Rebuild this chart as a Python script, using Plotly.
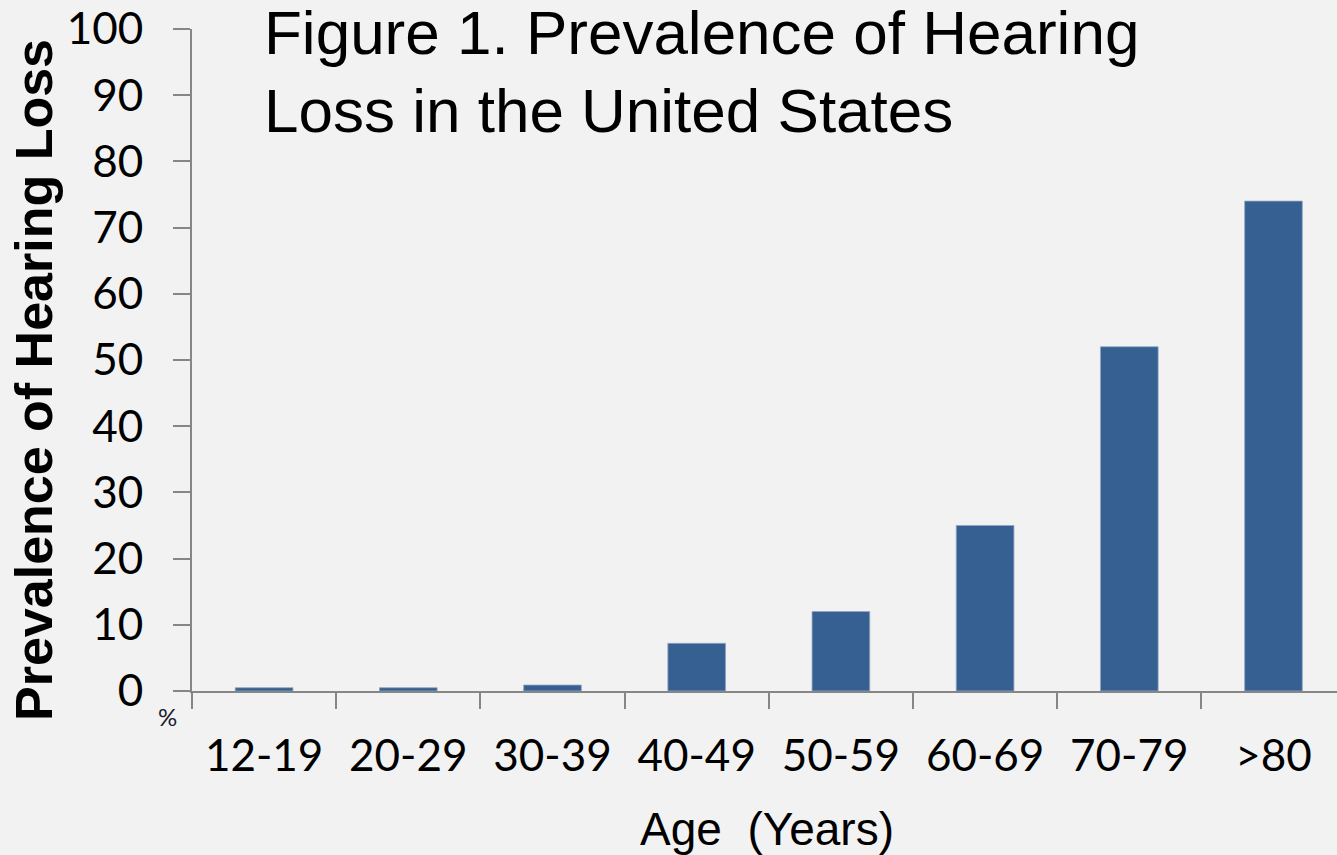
import plotly.graph_objects as go

age_groups = ["12-19", "20-29", "30-39", "40-49", "50-59", "60-69", "70-79", ">80"]
prevalence = [0.5, 0.5, 0.9, 7.2, 12.0, 25.0, 52.0, 74.0]
y_ticks = [0, 10, 20, 30, 40, 50, 60, 70, 80, 90, 100]

W, H = 1337, 855
L, R, T, B = 192, 0, 29, 164
pw, ph = W - L - R, H - T - B

def px(x):
    return (x - L) / pw

def py(y):
    return (H - B - y) / ph

cat_w = 144.2
xmax = pw / cat_w - 0.5

fig = go.Figure(go.Bar(
    x=age_groups, y=prevalence,
    marker=dict(color="#376092", line=dict(color="#8fa6c4", width=0.8)),
    width=0.4,
))

axis_col = "#868686"
tick_font = dict(family="Lato", size=44, color="#000000")

fig.update_layout(
    width=W, height=H,
    margin=dict(l=L, r=R, t=T, b=B, pad=0),
    paper_bgcolor="#f2f2f2", plot_bgcolor="#f2f2f2",
    showlegend=False,
    xaxis=dict(
        type="category", range=[-0.5, xmax], tickson="boundaries",
        showline=True, linecolor=axis_col, linewidth=2,
        ticks="outside", ticklen=16, tickwidth=2, tickcolor=axis_col,
        showgrid=False, zeroline=False, tickfont=tick_font,
        ticklabelstandoff=25,
    ),
    yaxis=dict(
        range=[0, 100], tickvals=y_ticks,
        showline=True, linecolor=axis_col, linewidth=2,
        ticks="outside", ticklen=17, tickwidth=2, tickcolor=axis_col,
        showgrid=False, zeroline=False, tickfont=tick_font,
        ticklabelstandoff=21,
    ),
)

ann = []
title_font = dict(family="Liberation Sans, Arial", size=62, color="#000000")
ann.append(dict(text="Figure 1. Prevalence of Hearing", x=px(262), y=py(33),
                xref="paper", yref="paper", xanchor="left", yanchor="middle",
                showarrow=False, font=title_font))
ann.append(dict(text="Loss in the United States", x=px(262), y=py(111),
                xref="paper", yref="paper", xanchor="left", yanchor="middle",
                showarrow=False, font=title_font))
ann.append(dict(text="<b>Prevalence of Hearing Loss</b>", x=px(34), y=py(380),
                xref="paper", yref="paper", xanchor="center", yanchor="middle",
                textangle=-90, showarrow=False,
                font=dict(family="Liberation Sans, Arial", size=52, color="#000000")))
ann.append(dict(text="Age\u00a0\u00a0(Years)", x=px(767), y=py(829),
                xref="paper", yref="paper", xanchor="center", yanchor="middle",
                showarrow=False,
                font=dict(family="Liberation Sans, Arial", size=46, color="#000000")))
ann.append(dict(text="%", x=px(167), y=py(716),
                xref="paper", yref="paper", xanchor="center", yanchor="middle",
                showarrow=False,
                font=dict(family="Lato", size=24, color="#1a1a2e")))
fig.update_layout(annotations=ann)

fig.write_html("out.html", config={"displayModeBar": False},
               post_script="document.body.style.margin='0';document.body.style.background='#f2f2f2';")
